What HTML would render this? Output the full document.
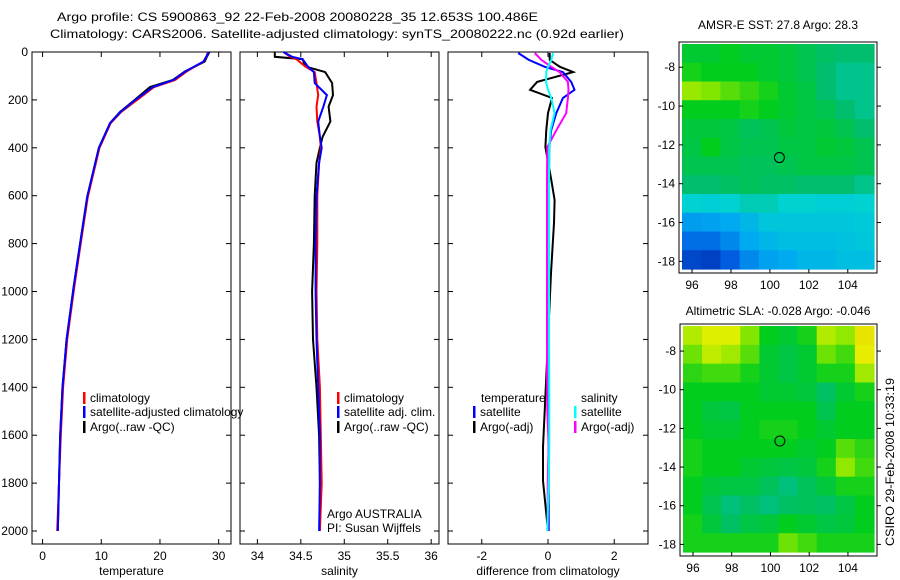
<!DOCTYPE html>
<html><head><meta charset="utf-8">
<style>
html,body{margin:0;padding:0;background:#fff;}
svg{display:block;font-family:"Liberation Sans",sans-serif;}
text{font-size:12px;fill:#000;}
</style></head>
<body>
<svg id="fig" width="900" height="580" viewBox="0 0 900 580" xmlns="http://www.w3.org/2000/svg">
<rect width="900" height="580" fill="#fff"/>
<text x="57" y="21" font-size="13" textLength="481" lengthAdjust="spacingAndGlyphs">Argo profile: CS 5900863_92 22-Feb-2008 20080228_35 12.653S 100.486E</text>
<text x="50" y="38" font-size="13" textLength="574" lengthAdjust="spacingAndGlyphs">Climatology: CARS2006. Satellite-adjusted climatology: synTS_20080222.nc (0.92d earlier)</text>
<g id="plots"></g>
<text x="778" y="29" text-anchor="middle" font-size="12">AMSR-E SST: 27.8 Argo: 28.3</text>
<text x="778" y="315" text-anchor="middle" font-size="12">Altimetric SLA: -0.028 Argo: -0.046</text>
<text transform="translate(894,546) rotate(-90)" font-size="12" textLength="168" lengthAdjust="spacingAndGlyphs">CSIRO 29-Feb-2008 10:33:19</text>
</svg>
<script>
// ---- data ----
const tDepth = [0,20,40,60,80,117,146,200,250,297,400,605,800,980,1200,1400,1600,1800,2000];
const tArgo  = [28.4,28.0,27.6,26.0,24.3,22.2,18.3,15.7,13.2,11.5,9.6,7.6,6.4,5.3,4.1,3.4,3.0,2.8,2.6];
const tClim  = [28.2,27.9,27.4,26.0,24.6,22.6,19.0,16.1,13.4,11.6,9.7,7.7,6.5,5.4,4.2,3.5,3.1,2.8,2.5];
const tSat   = [28.3,27.9,27.4,25.9,24.4,22.3,18.8,15.8,13.3,11.5,9.6,7.6,6.4,5.3,4.1,3.4,3.0,2.8,2.6];
const sDepth = [0,20,30,60,84,130,180,228,290,354,400,463,600,800,1000,1200,1400,1600,1800,2000];
const sArgo  = [34.2,34.2,34.52,34.55,34.78,34.86,34.87,34.82,34.84,34.75,34.72,34.68,34.66,34.65,34.63,34.64,34.68,34.71,34.72,34.72];
const sClim  = [34.3,34.38,34.45,34.55,34.66,34.68,34.70,34.68,34.69,34.72,34.73,34.71,34.69,34.69,34.68,34.69,34.72,34.73,34.74,34.72];
const sSat   = [34.3,34.4,34.52,34.58,34.65,34.66,34.8,34.76,34.70,34.72,34.74,34.71,34.68,34.67,34.67,34.68,34.70,34.72,34.72,34.71];
const dDepth = [4,33,62,84,125,158,192,255,325,397,535,618,714,923,1200,1500,1650,1790,2000];
const dTArgo = [0.05,0.05,0.36,0.76,-0.33,-0.54,0.12,0.0,-0.05,-0.08,0.1,0.2,0.18,0.09,0.0,-0.1,-0.15,-0.15,0.0];
const dTSat  = [-0.9,-0.58,-0.1,0.45,0.7,0.8,0.45,0.25,0.1,0.04,0.03,0.03,0.03,0.03,0.02,0.02,0.02,0.02,0.02];
const dSArgo = [-0.4,-0.2,0.1,0.35,0.6,0.62,0.6,0.55,0.26,-0.02,-0.03,-0.03,-0.03,-0.03,-0.03,-0.02,0.02,-0.01,-0.01];
const dSSat  = [0.15,0.1,0.0,-0.05,-0.06,0.0,0.1,0.2,0.08,0.04,0.03,0.03,0.03,0.03,0.03,0.04,0.04,0.02,-0.02];
const depthTicks = [0,200,400,600,800,1000,1200,1400,1600,1800,2000];
const tTicks = [0,10,20,30];
const sTicks = [34,34.5,35,35.5,36];
const dTicks = [-2,0,2];
const lonTicks = [96,98,100,102,104];
const latTicks = [-8,-10,-12,-14,-16,-18];
const sstGrid = [
[.58,.58,.6,.58,.58,.57,.55,.53,.52,.52],
[.62,.6,.6,.6,.58,.57,.55,.52,.5,.5],
[.75,.72,.68,.65,.62,.58,.56,.52,.5,.5],
[.6,.6,.6,.62,.6,.58,.56,.55,.52,.5],
[.57,.57,.56,.54,.55,.57,.56,.57,.55,.52],
[.56,.6,.56,.55,.55,.56,.56,.58,.57,.55],
[.55,.55,.55,.54,.54,.55,.56,.56,.56,.55],
[.52,.52,.53,.54,.53,.53,.52,.52,.52,.5],
[.45,.44,.45,.47,.47,.45,.45,.44,.44,.45],
[.32,.33,.35,.38,.42,.42,.42,.42,.42,.43],
[.22,.22,.28,.35,.38,.4,.4,.4,.41,.42],
[.12,.1,.18,.28,.33,.35,.38,.38,.4,.4]];
const slaGrid = [
[.78,.84,.84,.72,.6,.58,.62,.78,.74,.88],
[.7,.8,.76,.68,.58,.56,.58,.7,.66,.86],
[.64,.66,.66,.62,.58,.56,.58,.62,.62,.76],
[.6,.6,.6,.6,.58,.58,.57,.53,.58,.62],
[.6,.57,.56,.6,.6,.6,.6,.55,.6,.6],
[.6,.58,.58,.6,.62,.62,.6,.58,.6,.6],
[.62,.6,.6,.6,.6,.6,.58,.6,.68,.64],
[.62,.6,.6,.58,.57,.56,.57,.62,.74,.66],
[.6,.57,.56,.56,.54,.51,.54,.57,.62,.62],
[.6,.55,.51,.53,.51,.53,.54,.53,.56,.6],
[.62,.57,.53,.56,.57,.6,.58,.56,.57,.6],
[.62,.62,.62,.62,.62,.7,.66,.62,.62,.62]];
const argoLon = 100.486, argoLat = -12.653;

// ---- drawing ----
const NS="http://www.w3.org/2000/svg";
const root=document.getElementById('plots');
function mk(tag,attrs,parent){const e=document.createElementNS(NS,tag);for(const k in attrs)e.setAttribute(k,attrs[k]);(parent||root).appendChild(e);return e;}
const yTop=52, yBot=544, yScale=0.2395;
const yD=d=>yTop+d*yScale;

function panel(name,x0,x1,vmin,vmax,ticks,title,showY){
  const xs=v=>x0+(v-vmin)/(vmax-vmin)*(x1-x0);
  const g=mk('g',{});
  
  
  const fr=mk('rect',{x:x0,y:yTop,width:x1-x0,height:yBot-yTop,fill:'none',stroke:'#000','stroke-width':1},g);
  
  
  ticks.forEach(t=>{
    const x=xs(t);
    mk('line',{x1:x,x2:x,y1:yBot,y2:yBot-5,stroke:'#000'},g);
    mk('line',{x1:x,x2:x,y1:yTop,y2:yTop+5,stroke:'#000'},g);
    const tx=mk('text',{x:x,y:yBot+16,'text-anchor':'middle'},g);
    tx.textContent=String(t);
    
    
  });
  depthTicks.forEach(d=>{
    const y=yD(d);
    mk('line',{x1:x0,x2:x0+5,y1:y,y2:y,stroke:'#000'},g);
    mk('line',{x1:x1,x2:x1-5,y1:y,y2:y,stroke:'#000'},g);
    if(showY){const tx=mk('text',{x:x0-4,y:y+4,'text-anchor':'end'},g);tx.textContent=String(d);
      
      }
  });
  const tt=mk('text',{x:(x0+x1)/2,y:575,'text-anchor':'middle'},g);
  tt.textContent=title;
  
  
  return {xs,g};
}
function line(p,depths,vals,color,name){
  const pts=depths.map((d,i)=>p.xs(vals[i]).toFixed(1)+','+yD(d).toFixed(1)).join(' ');
  const l=mk('polyline',{points:pts,fill:'none',stroke:color,'stroke-width':2},p.g);
  
  
}
function legend(g,x,y,color,label){
  mk('rect',{x:x,y:y-10,width:2.5,height:12,fill:color},g);
  if(label){const t=mk('text',{x:x+7,y:y},g);t.textContent=label;
    
    }
}
function txt(g,x,y,s,name){const t=mk('text',{x:x,y:y},g);t.textContent=s;
  
  }

const pT=panel('temperature-panel',32,231,-1.8,32.1,tTicks,'temperature',true);
line(pT,tDepth,tArgo,'#000','temperature-argo-line');
line(pT,tDepth,tClim,'#f00','temperature-climatology-line');
line(pT,tDepth,tSat,'#00f','temperature-satellite-line');
const ctT=mk('g',{});


legend(ctT,83,402,'#f00','climatology');
legend(ctT,83,416,'#00f','satellite-adjusted climatology');
legend(ctT,83,431,'#000','Argo(..raw -QC)');

const pS=panel('salinity-panel',240,439,33.8,36.09,sTicks,'salinity',false);
line(pS,sDepth,sArgo,'#000','salinity-argo-line');
line(pS,sDepth,sClim,'#f00','salinity-climatology-line');
line(pS,sDepth,sSat,'#00f','salinity-satellite-line');
legend(pS.g,337,402,'#f00','climatology');
legend(pS.g,337,416,'#00f','satellite adj. clim.');
legend(pS.g,337,431,'#000','Argo(..raw -QC)');
txt(pS.g,327,518,'Argo AUSTRALIA','attribution-line-1');
txt(pS.g,327,532,'PI: Susan Wijffels','attribution-line-2');

const pD=panel('difference-panel',448,648,-3.02,3.02,dTicks,'difference from climatology',false);
line(pD,dDepth,dTArgo,'#000','temperature-argo-diff-line');
line(pD,dDepth,dTSat,'#00f','temperature-satellite-diff-line');
line(pD,dDepth,dSArgo,'#f0f','salinity-argo-diff-line');
line(pD,dDepth,dSSat,'#0ff','salinity-satellite-diff-line');
txt(pD.g,481,402,'temperature','legend-header-temperature');
txt(pD.g,581,402,'salinity','legend-header-salinity');
legend(pD.g,473,416,'#00f','satellite');
legend(pD.g,473,431,'#000','Argo(-adj)');
legend(pD.g,574,416,'#0ff','satellite');
legend(pD.g,574,431,'#f0f','Argo(-adj)');

const cmStops=[[0,[0,30,160]],[0.2,[0,100,230]],[0.35,[0,170,240]],[0.45,[0,210,210]],[0.52,[0,190,110]],[0.6,[0,205,30]],[0.72,[130,230,0]],[0.85,[230,240,0]],[1,[245,175,0]]];
function cmap(v){for(let i=1;i<cmStops.length;i++){if(v<=cmStops[i][0]){const a=cmStops[i-1],b=cmStops[i];const f=(v-a[0])/(b[0]-a[0]);const c=a[1].map((x,k)=>Math.round(x+(b[1][k]-x)*f));return 'rgb('+c.join(',')+')';}}return 'rgb(245,175,0)';}
function map(name,x0,x1,y0,y1,latTop,latBot,grid){
  const lonL=95.33,lonR=105.5;
  const xs=lo=>x0+(lo-lonL)/(lonR-lonL)*(x1-x0);
  const ys=la=>y0+(latTop-la)/(latTop-latBot)*(y1-y0);
  const g=mk('g',{});
  
  
  const rows=grid.length, cols=grid[0].length;
  const ix0=x0+3,ix1=x1-3,iy0=y0+2,iy1=y1-4;
  const cw=(ix1-ix0)/cols, ch=(iy1-iy0)/rows;
  grid.forEach((r,ri)=>r.forEach((v,ci)=>{
    const c=mk('rect',{x:(ix0+ci*cw).toFixed(2),y:(iy0+ri*ch).toFixed(2),width:(cw+0.6).toFixed(2),height:(ch+0.6).toFixed(2),fill:cmap(v)},g);
    
    
  }));
  const fr=mk('rect',{x:x0,y:y0,width:x1-x0,height:y1-y0,fill:'none',stroke:'#000'},g);
  
  
  lonTicks.forEach(lo=>{const x=xs(lo);
    mk('line',{x1:x,x2:x,y1:y1,y2:y1-4,stroke:'#000'},g);
    const t=mk('text',{x:x,y:y1+16,'text-anchor':'middle'},g);t.textContent=String(lo);
    
    });
  latTicks.forEach(la=>{const y=ys(la);
    mk('line',{x1:x0,x2:x0+4,y1:y,y2:y,stroke:'#000'},g);
    mk('line',{x1:x1,x2:x1+4,y1:y,y2:y,stroke:'#000'},g);
    const t=mk('text',{x:x0-4,y:y+4,'text-anchor':'end'},g);t.textContent=String(la);
    
    });
  const c=mk('circle',{cx:xs(argoLon),cy:ys(argoLat),r:5,fill:'none',stroke:'#000'},g);
  
  
}
map('sst-map',679,877,42,273,-6.7,-18.6,sstGrid);
map('sla-map',680,877,324,556,-6.6,-18.6,slaGrid);
</script>
</body></html>
